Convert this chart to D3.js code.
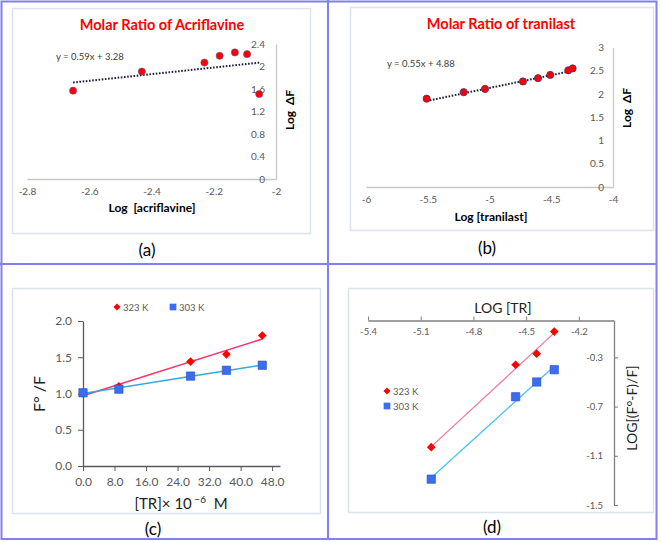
<!DOCTYPE html>
<html><head><meta charset="utf-8">
<script src="https://cdn.jsdelivr.net/npm/d3@7"></script>
<style>
body{margin:0;background:#fff}
svg{display:block}
text{font-family:Lato,"Open Sans",sans-serif}
</style>
</head><body>
<script>
// ---------- DATA ----------
// (a) Molar ratio of acriflavine
const acrX = [-2.652, -2.431, -2.230, -2.181, -2.132, -2.093, -2.054];
const acrY = [1.57, 1.91, 2.07, 2.19, 2.25, 2.22, 1.51];
const acrFit = [0.59, 3.28];               // slope, intercept
const acrXTicks = [-2.8, -2.6, -2.4, -2.2, -2];
const acrYTicks = [0, 0.4, 0.8, 1.2, 1.6, 2, 2.4];
// (b) Molar ratio of tranilast
const tranX = [-5.509, -5.209, -5.036, -4.729, -4.607, -4.508, -4.362, -4.327];
const tranY = [1.90, 2.04, 2.11, 2.27, 2.34, 2.41, 2.51, 2.55];
const tranFit = [0.55, 4.88];
const tranXTicks = [-6, -5.5, -5, -4.5, -4];
const tranYTicks = [0, 0.5, 1, 1.5, 2, 2.5, 3];
// (c) Stern-Volmer
const trConc = [0, 9.1, 27.3, 36.4, 45.5];
const sv323 = [1.00, 1.10, 1.44, 1.54, 1.80];
const sv303 = [1.01, 1.06, 1.24, 1.32, 1.39];
const cXTicks = [0, 8, 16, 24, 32, 40, 48];
const cYTicks = [0, 0.5, 1, 1.5, 2];
// (d) double log
const logTR = [-5.04, -4.56, -4.44, -4.34];
const dl323 = [-1.03, -0.36, -0.27, -0.09];
const dl303 = [-1.29, -0.62, -0.50, -0.40];
const dXTicks = [-5.4, -5.1, -4.8, -4.5, -4.2];
const dYTicks = [-0.3, -0.7, -1.1, -1.5];
const seriesNames = ["323 K", "303 K"];

// ---------- helpers ----------
const fmtG = v => String(+v.toFixed(2));
const fmt1 = d3.format(".1f");
function regress(xs, ys){
  const mx = d3.mean(xs), my = d3.mean(ys);
  let sxy = 0, sxx = 0;
  xs.forEach((x,i)=>{ sxy += (x-mx)*(ys[i]-my); sxx += (x-mx)*(x-mx); });
  const m = sxy/sxx; return [m, my - m*mx];
}

const svg = d3.select("body").append("svg").attr("width",661).attr("height",542);
svg.append("rect").attr("width",661).attr("height",542).attr("fill","#fff");

// panel frames
const frames = [[12,8,298,225],[350,7,303,223],[12,288,308,225],[348,288,305,224]];
svg.selectAll("rect.frame").data(frames).join("rect").attr("class","frame")
  .attr("x",d=>d[0]+0.5).attr("y",d=>d[1]+0.5).attr("width",d=>d[2]).attr("height",d=>d[3])
  .attr("fill","none").attr("stroke","#dde3ec").attr("stroke-width",1.5);

function styleAxis(g, col, tcol, fs){
  g.select(".domain").attr("stroke",col).attr("stroke-width",1.3);
  g.selectAll(".tick line").attr("stroke",col);
  g.selectAll("text").attr("fill",tcol).attr("font-size",fs).attr("font-family","Lato, 'Open Sans', sans-serif");
}

// ---------- (a) ----------
{
  const x = d3.scaleLinear([-2.8,-2],[27,276]);
  const y = d3.scaleLinear([0,2.4],[179,44]);
  const gx = svg.append("g").attr("transform","translate(0,179)")
    .call(d3.axisBottom(x).tickValues(acrXTicks).tickFormat(fmtG).tickSize(0).tickSizeOuter(0));
  styleAxis(gx,"#c8c8c8","#595959",10); gx.selectAll("text").attr("y",9);
  const gy = svg.append("g").attr("transform","translate(276,0)")
    .call(d3.axisLeft(y).tickValues(acrYTicks).tickFormat(fmtG).tickSize(0).tickSizeOuter(0));
  styleAxis(gy,"#c8c8c8","#595959",10); gy.selectAll("text").attr("x",-11);
  const [m,b] = acrFit; const xe = d3.extent(acrX);
  svg.append("path").attr("d", d3.line()(xe.map(v=>[x(v), y(m*v+b)])))
    .attr("stroke","#1c1c3a").attr("stroke-width",2).attr("stroke-dasharray","1.6,1.6").attr("fill","none");
  svg.append("g").selectAll("circle").data(acrX).join("circle")
    .attr("cx",d=>x(d)).attr("cy",(d,i)=>y(acrY[i])).attr("r",3.6)
    .attr("fill","#ff0000").attr("stroke","#5a5aa0").attr("stroke-width",0.6);
  svg.append("text").attr("x",56).attr("y",59.5).attr("font-size",9.5).attr("fill","#404040").text("y = 0.59x + 3.28");
  svg.append("text").attr("x",162).attr("y",30).attr("text-anchor","middle").attr("font-size",14.5)
    .attr("font-weight","bold").attr("fill","#ff0000").text("Molar Ratio of Acriflavine");
  svg.append("text").attr("x",152).attr("y",212).attr("text-anchor","middle").attr("font-size",12)
    .attr("font-weight","bold").attr("fill","#000").attr("xml:space","preserve").text("Log  [acriflavine]");
  svg.append("text").attr("transform","translate(294,110) rotate(-90)").attr("text-anchor","middle")
    .attr("font-size",12).attr("font-weight","bold").attr("xml:space","preserve").text("Log  ΔF");
  svg.append("text").attr("x",147).attr("y",256).attr("text-anchor","middle").attr("font-size",17).text("(a)");
}

// ---------- (b) ----------
{
  const x = d3.scaleLinear([-6,-4],[366,613]);
  const y = d3.scaleLinear([0,3],[187,47.5]);
  const gx = svg.append("g").attr("transform","translate(0,187)")
    .call(d3.axisBottom(x).tickValues(tranXTicks).tickFormat(fmtG).tickSize(0).tickSizeOuter(0));
  styleAxis(gx,"#c8c8c8","#595959",10); gx.selectAll("text").attr("y",8.5);
  const gy = svg.append("g").attr("transform","translate(613,0)")
    .call(d3.axisLeft(y).tickValues(tranYTicks).tickFormat(fmtG).tickSize(0).tickSizeOuter(0));
  styleAxis(gy,"#c8c8c8","#595959",10); gy.selectAll("text").attr("x",-9);
  const [m,b] = tranFit; const xe = d3.extent(tranX);
  svg.append("path").attr("d", d3.line()(xe.map(v=>[x(v), y(m*v+b)])))
    .attr("stroke","#1c1c3a").attr("stroke-width",2).attr("stroke-dasharray","1.6,1.6").attr("fill","none");
  svg.append("g").selectAll("circle").data(tranX).join("circle")
    .attr("cx",d=>x(d)).attr("cy",(d,i)=>y(tranY[i])).attr("r",3.6)
    .attr("fill","#ff0000").attr("stroke","#3a3a80").attr("stroke-width",0.8);
  svg.append("text").attr("x",387).attr("y",66.5).attr("font-size",9.5).attr("fill","#404040").text("y = 0.55x + 4.88");
  svg.append("text").attr("x",501).attr("y",29).attr("text-anchor","middle").attr("font-size",14.5)
    .attr("font-weight","bold").attr("fill","#ff0000").text("Molar Ratio of tranilast");
  svg.append("text").attr("x",491).attr("y",221).attr("text-anchor","middle").attr("font-size",12)
    .attr("font-weight","bold").attr("fill","#000").text("Log [tranilast]");
  svg.append("text").attr("transform","translate(631,108) rotate(-90)").attr("text-anchor","middle")
    .attr("font-size",12).attr("font-weight","bold").attr("xml:space","preserve").text("Log  ΔF");
  svg.append("text").attr("x",487).attr("y",254).attr("text-anchor","middle").attr("font-size",17).text("(b)");
}

// ---------- (c) ----------
{
  const x = d3.scaleLinear([0,50],[83,280]);
  const y = d3.scaleLinear([0,2],[466,321]);
  const gx = svg.append("g").attr("transform","translate(0,466)")
    .call(d3.axisBottom(x).tickValues(cXTicks).tickFormat(fmt1).tickSize(5).tickSizeOuter(0));
  styleAxis(gx,"#595959","#595959",12); gx.selectAll("text").attr("y",11);
  const gy = svg.append("g").attr("transform","translate(83,0)")
    .call(d3.axisLeft(y).tickValues(cYTicks).tickFormat(fmt1).tickSize(5).tickSizeOuter(0));
  styleAxis(gy,"#595959","#595959",12); gy.selectAll("text").attr("x",-11);
  const sets = [[sv323,"#ff3366","#ff0000",d3.symbolDiamond2,48],[sv303,"#33aadd","#3a6df0",d3.symbolSquare,70]];
  sets.forEach(([ys,lc])=>{
    const [m,b] = regress(trConc, ys); const xe = d3.extent(trConc);
    svg.append("path").attr("d", d3.line()(xe.map(v=>[x(v), y(m*v+b)])))
      .attr("stroke",lc).attr("stroke-width",1.5).attr("fill","none");
  });
  sets.forEach(([ys,lc,fc,sym,sz])=>{
    svg.append("g").selectAll("path").data(trConc).join("path")
      .attr("d", d3.symbol(sym, sz)).attr("transform",(d,i)=>`translate(${x(d)},${y(ys[i])})`)
      .attr("fill",fc).attr("stroke","#2a4fbf").attr("stroke-width",sym===d3.symbolSquare?0.6:0);
  });
  // legend
  const lg = [[117,307,"#ff0000",d3.symbolDiamond2,32],[173,307,"#3a6df0",d3.symbolSquare,45]];
  lg.forEach(([lx,ly,c,sym,sz],i)=>{
    svg.append("path").attr("d",d3.symbol(sym,sz)).attr("transform",`translate(${lx},${ly})`).attr("fill",c);
    svg.append("text").attr("x",lx+6).attr("y",ly+3.5).attr("font-size",9.5).attr("fill","#595959").text(seriesNames[i]);
  });
  const t = svg.append("text").attr("x",181).attr("y",509).attr("text-anchor","middle").attr("font-size",15).attr("fill","#222");
  t.append("tspan").text("[TR]× 10");
  t.append("tspan").attr("dy",-6).attr("font-size",10).text(" −6");
  t.append("tspan").attr("dy",6).attr("xml:space","preserve").text("  M");
  svg.append("text").attr("transform","translate(45,394) rotate(-90)").attr("text-anchor","middle")
    .attr("font-size",16).attr("fill","#222").text("F° /F");
  svg.append("text").attr("x",153).attr("y",535).attr("text-anchor","middle").attr("font-size",17).text("(c)");
}

// ---------- (d) ----------
{
  const x = d3.scaleLinear([-5.4,-4.0],[368,614]);
  const y = d3.scaleLinear([-1.5,0],[505,320.5]);
  const gx = svg.append("g").attr("transform","translate(0,320.5)")
    .call(d3.axisBottom(x).tickValues(dXTicks).tickFormat(fmtG).tickSize(-4).tickSizeOuter(0));
  styleAxis(gx,"#7f7f7f","#595959",9.5); gx.selectAll("text").attr("y",7.5);
  const gy = svg.append("g").attr("transform","translate(614,0)")
    .call(d3.axisLeft(y).tickValues(dYTicks).tickFormat(fmtG).tickSize(-4).tickSizeOuter(0));
  styleAxis(gy,"#7f7f7f","#595959",9.5); gy.selectAll("text").attr("x",-11);
  const sets = [[dl323,"#ec7aa5","#ff0000",d3.symbolDiamond2,48],[dl303,"#4cc3ec","#3a6df0",d3.symbolSquare,70]];
  sets.forEach(([ys,lc])=>{
    const [m,b] = regress(logTR, ys); const xe = d3.extent(logTR);
    svg.append("path").attr("d", d3.line()(xe.map(v=>[x(v), y(m*v+b)])))
      .attr("stroke",lc).attr("stroke-width",1.3).attr("fill","none");
  });
  sets.forEach(([ys,lc,fc,sym,sz])=>{
    svg.append("g").selectAll("path").data(logTR).join("path")
      .attr("d", d3.symbol(sym, sz)).attr("transform",(d,i)=>`translate(${x(d)},${y(ys[i])})`)
      .attr("fill",fc).attr("stroke","#2a4fbf").attr("stroke-width",sym===d3.symbolSquare?0.6:0);
  });
  const lg = [[387,391,"#ff0000",d3.symbolDiamond2,32],[387,406,"#3a6df0",d3.symbolSquare,45]];
  lg.forEach(([lx,ly,c,sym,sz],i)=>{
    svg.append("path").attr("d",d3.symbol(sym,sz)).attr("transform",`translate(${lx},${ly})`).attr("fill",c);
    svg.append("text").attr("x",lx+6).attr("y",ly+3.5).attr("font-size",9.5).attr("fill","#595959").text(seriesNames[i]);
  });
  svg.append("text").attr("x",503).attr("y",313).attr("text-anchor","middle").attr("font-size",14).attr("fill","#222").text("LOG [TR]");
  svg.append("text").attr("transform","translate(637,408) rotate(-90)").attr("text-anchor","middle")
    .attr("font-size",14).attr("fill","#222").text("LOG[(F°-F)/F]");
  svg.append("text").attr("x",492).attr("y",533).attr("text-anchor","middle").attr("font-size",17).text("(d)");
}

// ---------- outer border & dividers ----------
const bc = "#8080f0";
svg.append("rect").attr("x",1.5).attr("y",1.5).attr("width",655).attr("height",537.5)
  .attr("fill","none").attr("stroke",bc).attr("stroke-width",2);
svg.append("line").attr("x1",328).attr("x2",328).attr("y1",0).attr("y2",540).attr("stroke",bc).attr("stroke-width",2);
svg.append("line").attr("x1",0).attr("x2",657).attr("y1",264).attr("y2",264).attr("stroke",bc).attr("stroke-width",2);
</script>
</body></html>
